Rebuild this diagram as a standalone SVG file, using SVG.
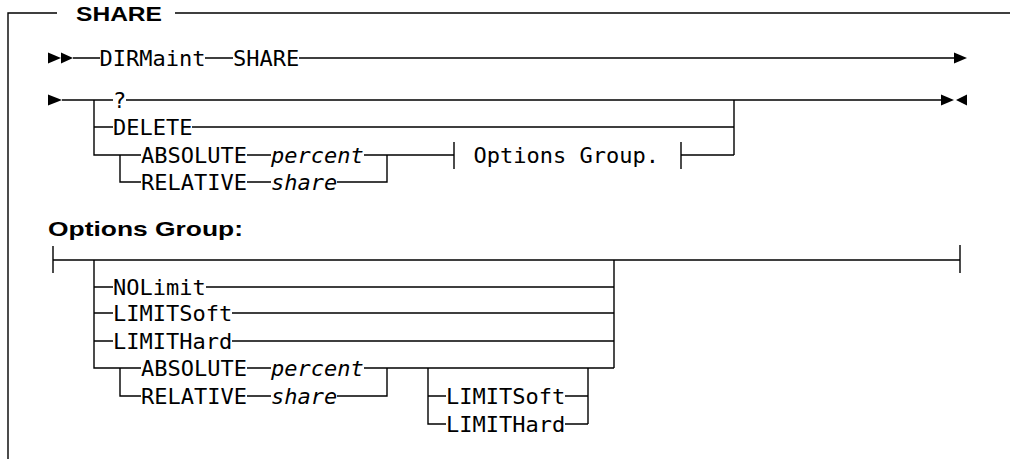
<svg xmlns="http://www.w3.org/2000/svg" width="1010" height="459" viewBox="0 0 1010 459">
<style>
.ln{stroke:#000;stroke-width:1.4;fill:none}
.ar{fill:#000;stroke:none}
.kw{font-family:"DejaVu Sans Mono","Liberation Mono",monospace;font-size:22px;fill:#000}
.var{font-family:"DejaVu Sans Mono","Liberation Mono",monospace;font-size:22px;font-style:italic;fill:#000}
.hd{font-family:"Liberation Sans",Arial,sans-serif;font-size:21px;font-weight:bold;fill:#000}
</style>
<rect width="1010" height="459" fill="#fff"/>
<g id="frame">
<path class="ln" d="M8,459 V13 H57 M175,13 H1010"/>
<text class="hd" x="76" y="20.5" textLength="86" lengthAdjust="spacingAndGlyphs">SHARE</text>
</g>
<g id="connectors">
<!-- row 1 -->
<polygon class="ar" points="48,52.5 61,58 48,63.5"/>
<polygon class="ar" points="61,52.5 73,58 61,63.5"/>
<path class="ln" d="M73,58 H100 M205,58 H233 M299,58 H954"/>
<polygon class="ar" points="954,52.5 967,58 954,63.5"/>
<!-- row 2 -->
<polygon class="ar" points="48,94.5 62,100 48,105.5"/>
<path class="ln" d="M62,100 H113 M126,100 H941"/>
<polygon class="ar" points="941,94.5 954,100 941,105.5"/>
<polygon class="ar" points="967,94.5 956,100 967,105.5"/>
<path class="ln" d="M94,100 V155 H141 M94,127 H113 M192,127 H734 M734,100 V155"/>
<path class="ln" d="M247,155 H271 M364,155 H454 M681,155 H734"/>
<path class="ln" d="M120,155 V182 H141 M247,182 H271 M337,182 H387 V155"/>
<path class="ln" d="M454,142 V169 M681,142 V169"/>
<!-- options group -->
<path class="ln" d="M53,246 V273 M53,260 H960 M960,245 V273"/>
<path class="ln" d="M94,260 V368 H141 M94,287 H113 M206,287 H614 M94,313 H113 M232,313 H614 M94,341 H113 M232,341 H614 M614,260 V368"/>
<path class="ln" d="M247,368 H271 M364,368 H614"/>
<path class="ln" d="M120,368 V396 H141 M247,396 H271 M337,396 H387 V368"/>
<path class="ln" d="M428,368 V424 H446 M428,396 H446 M565,396 H588 M565,424 H588 M588,368 V424"/>
</g>
<g id="n-dirmaint"><text class="kw" x="99.5" y="66">DIRMaint</text></g>
<g id="n-share"><text class="kw" x="233" y="66">SHARE</text></g>
<g id="n-q"><text class="kw" x="113" y="108">?</text></g>
<g id="n-delete"><text class="kw" x="113" y="135">DELETE</text></g>
<g id="n-absolute"><text class="kw" x="141" y="163">ABSOLUTE</text></g>
<g id="n-percent"><text class="var" x="271" y="163">percent</text></g>
<g id="n-relative"><text class="kw" x="141" y="190">RELATIVE</text></g>
<g id="n-share-var"><text class="var" x="271" y="190">share</text></g>
<g id="n-optref"><text class="kw" x="473.5" y="163">Options Group.</text></g>
<g id="h-options"><text class="hd" x="48" y="236" textLength="195" lengthAdjust="spacingAndGlyphs">Options Group:</text></g>
<g id="o-nolimit"><text class="kw" x="113" y="295">NOLimit</text></g>
<g id="o-limitsoft"><text class="kw" x="113" y="321">LIMITSoft</text></g>
<g id="o-limithard"><text class="kw" x="113" y="349">LIMITHard</text></g>
<g id="o-absolute"><text class="kw" x="141" y="376">ABSOLUTE</text></g>
<g id="o-percent"><text class="var" x="271" y="376">percent</text></g>
<g id="o-relative"><text class="kw" x="141" y="404">RELATIVE</text></g>
<g id="o-share"><text class="var" x="271" y="404">share</text></g>
<g id="o-limitsoft2"><text class="kw" x="446" y="404">LIMITSoft</text></g>
<g id="o-limithard2"><text class="kw" x="446" y="432">LIMITHard</text></g>
</svg>
